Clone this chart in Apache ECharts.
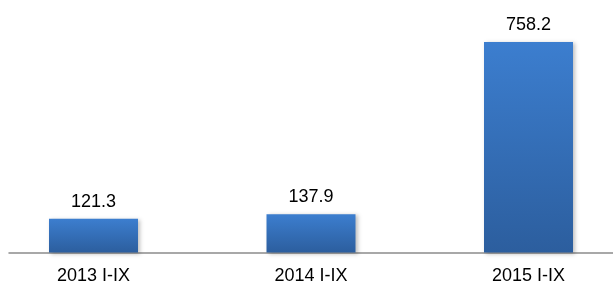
<!DOCTYPE html>
<html>
<head>
<meta charset="utf-8">
<script src="https://cdn.jsdelivr.net/npm/echarts@6/dist/echarts.min.js"></script>
<style>html,body{margin:0;padding:0;background:#fff}#c{width:613px;height:289px}</style>
</head>
<body>
<div id="c"></div>
<script>
const categories = ['2013 I-IX', '2014 I-IX', '2015 I-IX'];
const values = [121.3, 137.9, 758.2];

const chart = echarts.init(document.getElementById('c'));
chart.setOption({
  animation: false,
  grid: { left: 9, right: 0, top: 2.6, bottom: 36.5 },
  xAxis: {
    type: 'value', min: -0.3885, max: 2.3885,
    axisLine: { show: true, onZero: false, lineStyle: { color: '#8c8c8c', width: 1.5 } },
    axisTick: { show: false }, splitLine: { show: false },
    axisLabel: {
      customValues: [0, 1, 2],
      formatter: v => categories[Math.round(v)],
      color: '#000', fontSize: 18, fontFamily: 'Liberation Sans, Arial', margin: 15
    }
  },
  yAxis: { type: 'value', min: 0, max: 900, show: false, splitLine: { show: false } },
  series: [{
    type: 'bar',
    data: values.map((v, i) => [i, v]),
    barWidth: 89,
    itemStyle: {
      color: new echarts.graphic.LinearGradient(0, 0, 0, 1, [
        { offset: 0, color: '#3c7ecf' },
        { offset: 1, color: '#2c5e9e' }
      ]),
      shadowColor: 'rgba(0,0,0,0.25)', shadowBlur: 4, shadowOffsetX: 2, shadowOffsetY: 1
    },
    label: {
      show: true, position: 'top', distance: 8,
      color: '#000', fontSize: 18, fontFamily: 'Liberation Sans, Arial',
      formatter: p => p.value[1].toFixed(1)
    }
  }]
});
</script>
</body>
</html>
